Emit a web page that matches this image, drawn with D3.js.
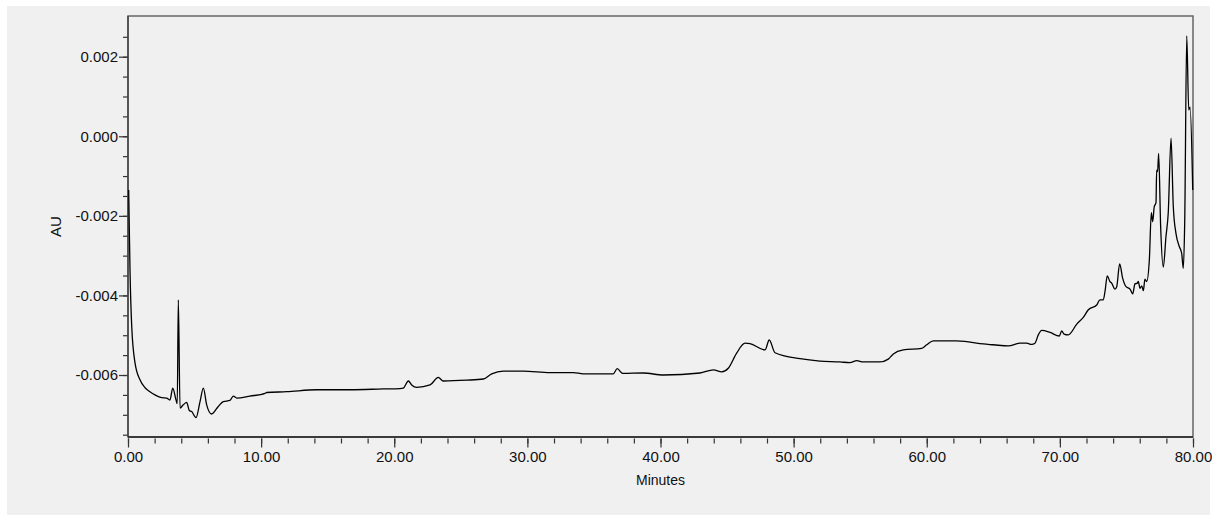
<!DOCTYPE html>
<html>
<head>
<meta charset="utf-8">
<script src="https://cdn.jsdelivr.net/npm/d3@7/dist/d3.min.js"></script>
<style>
  html, body { margin: 0; padding: 0; background: #ffffff; }
  svg { display: block; }
  text { font-family: "Liberation Sans", Arial, sans-serif; fill: #111; }
</style>
</head>
<body>
<svg id="chart" width="1213" height="521"></svg>
<script>
// ---- data ----
const minutes = [0.05,0.15,0.28,0.53,0.90,1.28,1.65,2.03,2.53,2.90,3.15,3.36,3.61,3.70,3.78,3.91,4.15,4.41,4.60,4.78,5.11,5.41,5.66,5.91,6.28,6.78,7.16,7.66,7.91,8.17,9.16,10.29,10.42,11.92,14.17,16.68,19.16,20.43,20.68,21.06,21.31,21.69,22.69,23.31,23.68,25.44,26.69,27.32,28.19,29.69,31.70,33.45,34.20,36.45,36.75,37.16,38.71,40.21,42.97,43.97,44.60,45.09,45.72,46.35,46.72,47.85,48.17,48.60,50.48,51.98,53.48,54.23,54.74,55.23,56.49,57.11,57.49,58.24,59.62,60.00,60.49,62.25,63.00,64.25,65.00,66.13,67.00,67.51,67.88,68.13,68.38,68.64,69.26,69.96,70.14,70.31,70.63,71.27,71.76,72.14,72.77,73.01,73.26,73.39,73.56,73.76,73.89,74.14,74.27,74.49,74.72,74.97,75.27,75.47,75.64,75.82,75.89,76.02,76.15,76.27,76.39,76.52,76.72,76.87,76.97,77.09,77.22,77.27,77.34,77.42,77.57,77.77,77.97,78.14,78.35,78.52,78.72,78.97,79.15,79.27,79.38,79.53,79.68,79.78,79.98];
const au = [-0.00135,-0.00336,-0.00478,-0.00570,-0.00612,-0.00632,-0.00642,-0.00650,-0.00657,-0.00658,-0.00663,-0.00633,-0.00663,-0.00672,-0.00411,-0.00683,-0.00675,-0.00669,-0.00689,-0.00692,-0.00707,-0.00667,-0.00633,-0.00675,-0.00698,-0.00679,-0.00667,-0.00664,-0.00653,-0.00658,-0.00653,-0.00646,-0.00644,-0.00642,-0.00637,-0.00637,-0.00635,-0.00634,-0.00633,-0.00615,-0.00625,-0.00631,-0.00625,-0.00606,-0.00615,-0.00613,-0.00610,-0.00597,-0.00590,-0.00590,-0.00594,-0.00594,-0.00597,-0.00597,-0.00584,-0.00596,-0.00595,-0.00600,-0.00595,-0.00587,-0.00592,-0.00583,-0.00545,-0.00520,-0.00521,-0.00537,-0.00512,-0.00544,-0.00559,-0.00565,-0.00567,-0.00569,-0.00564,-0.00567,-0.00567,-0.00560,-0.00547,-0.00537,-0.00533,-0.00524,-0.00514,-0.00514,-0.00516,-0.00522,-0.00524,-0.00527,-0.00520,-0.00520,-0.00523,-0.00520,-0.00499,-0.00488,-0.00493,-0.00502,-0.00489,-0.00497,-0.00499,-0.00472,-0.00455,-0.00436,-0.00424,-0.00411,-0.00411,-0.00390,-0.00351,-0.00365,-0.00369,-0.00384,-0.00378,-0.00321,-0.00357,-0.00378,-0.00384,-0.00396,-0.00371,-0.00369,-0.00365,-0.00382,-0.00376,-0.00388,-0.00359,-0.00365,-0.00311,-0.00192,-0.00215,-0.00177,-0.00167,-0.00085,-0.00089,-0.00043,-0.00227,-0.00329,-0.00252,-0.00193,-0.00005,-0.00177,-0.00244,-0.00277,-0.00294,-0.00332,-0.00210,0.00252,0.00066,0.00073,-0.00135];

const xMajorTicks = [0, 10, 20, 30, 40, 50, 60, 70, 80];
const xMinorTicks = d3.range(0, 80.001, 2);
const yMajorTicks = [-0.006, -0.004, -0.002, 0.000, 0.002];
const yMinorTicks = d3.range(-0.0075, 0.00251, 0.0005);
const xTitle = "Minutes";
const yTitle = "AU";

// ---- layout ----
const svg = d3.select("#chart");
const plot = { left: 128, right: 1193, top: 16, bottom: 437 };

svg.append("rect").attr("x", 7).attr("y", 6).attr("width", 1203).attr("height", 509)
  .attr("fill", "#f0f0f0");

const x = d3.scaleLinear().domain([0, 80]).range([plot.left, plot.right]);
const y = d3.scaleLinear().domain([-0.007558, 0.003023]).range([plot.bottom, plot.top]);

// frame
svg.append("rect")
  .attr("x", plot.left).attr("y", plot.top)
  .attr("width", plot.right - plot.left).attr("height", plot.bottom - plot.top)
  .attr("fill", "none").attr("stroke", "#666").attr("stroke-width", 1.5);

// x axis (major + minor)
const gx = svg.append("g").attr("transform", `translate(0,${plot.bottom + 1.5})`);
gx.call(d3.axisBottom(x).tickValues(xMinorTicks).tickSize(5).tickFormat(""))
  .call(g => g.select(".domain").remove());
gx.append("g").call(d3.axisBottom(x).tickValues(xMajorTicks).tickSize(9).tickPadding(4)
    .tickFormat(d3.format(".2f")))
  .call(g => g.select(".domain").remove());
gx.selectAll("line").attr("stroke", "#333").attr("stroke-width", 1.2);
gx.selectAll("text").attr("font-size", 15).attr("fill", "#111")
  .attr("font-family", '"Liberation Sans", Arial, sans-serif');

// y axis (major + minor)
const gy = svg.append("g").attr("transform", `translate(${plot.left},0)`);
gy.call(d3.axisLeft(y).tickValues(yMinorTicks).tickSize(5).tickFormat(""))
  .call(g => g.select(".domain").remove());
gy.append("g").call(d3.axisLeft(y).tickValues(yMajorTicks).tickSize(9).tickPadding(1)
    .tickFormat(d => d3.format(".3f")(Math.abs(d) < 1e-12 ? 0 : d).replace("−", "-")))
  .call(g => g.select(".domain").remove());
gy.selectAll("line").attr("stroke", "#333").attr("stroke-width", 1.2);
gy.selectAll("text").attr("font-size", 15).attr("fill", "#111")
  .attr("font-family", '"Liberation Sans", Arial, sans-serif');

// left and bottom axis lines darker
svg.append("line").attr("x1", plot.left).attr("x2", plot.left)
  .attr("y1", plot.top).attr("y2", plot.bottom).attr("stroke", "#444").attr("stroke-width", 1.5);
svg.append("line").attr("x1", plot.left).attr("x2", plot.right)
  .attr("y1", plot.bottom).attr("y2", plot.bottom).attr("stroke", "#222").attr("stroke-width", 1.5);

// trace
const pts = minutes.map((t, i) => [t, au[i]]);
svg.append("path")
  .datum(pts)
  .attr("fill", "none")
  .attr("stroke", "#000")
  .attr("stroke-width", 1.3)
  .attr("stroke-linejoin", "round")
  .attr("d", d3.line().curve(d3.curveMonotoneX).x(d => x(d[0])).y(d => y(d[1])));

// titles
svg.append("text").attr("x", (plot.left + plot.right) / 2).attr("y", 485)
  .attr("text-anchor", "middle").attr("font-size", 14).text(xTitle);
svg.append("text").attr("transform", `translate(61,${(plot.top + plot.bottom) / 2}) rotate(-90)`)
  .attr("text-anchor", "middle").attr("font-size", 15).text(yTitle);
</script>
</body>
</html>
